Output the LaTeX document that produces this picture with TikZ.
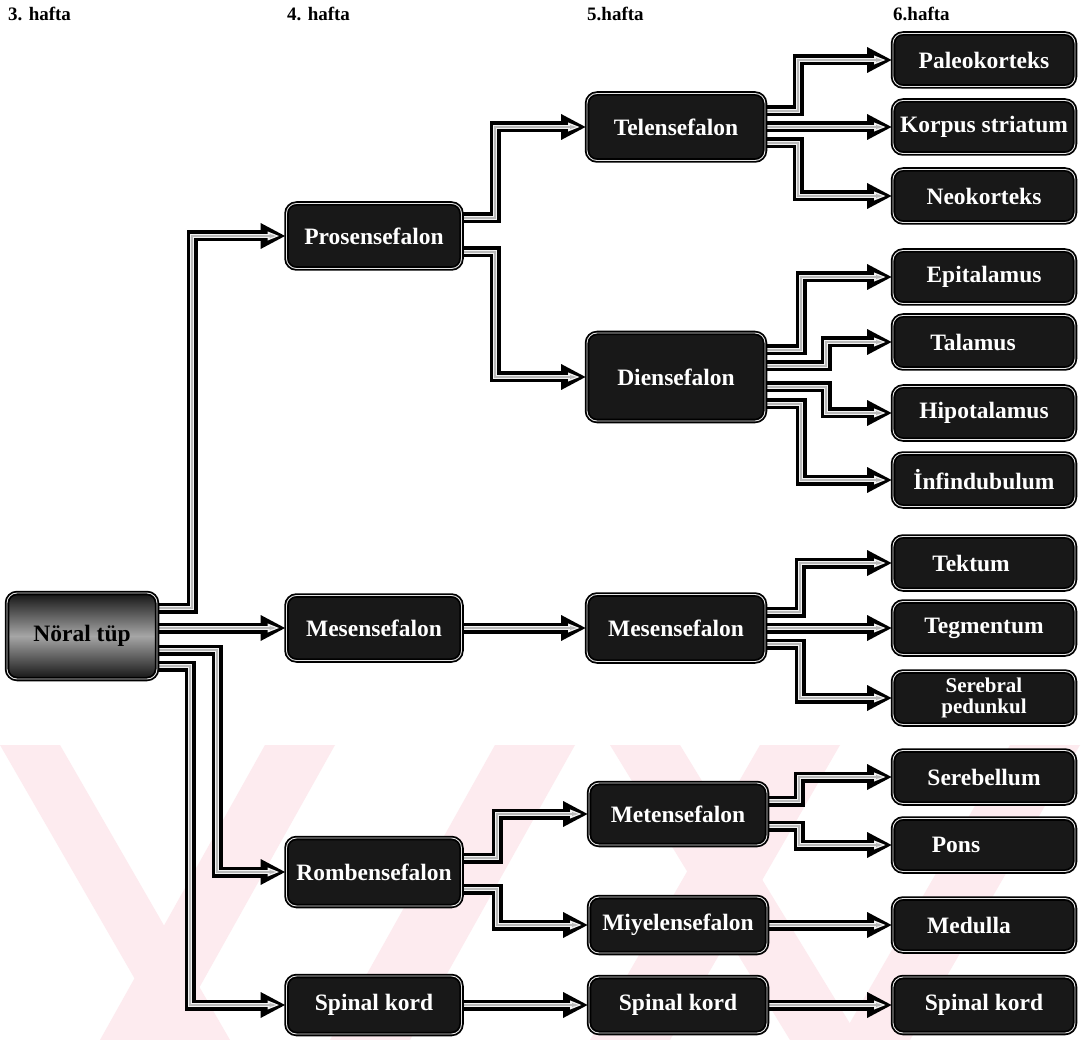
\documentclass[tikz,border=0pt]{standalone}
\usepackage{fontspec}
\setmainfont{Liberation Serif}
\usetikzlibrary{arrows.meta,backgrounds}
\definecolor{boxfill}{RGB}{24,24,24}
\definecolor{wm}{RGB}{253,235,239}
\tikzset{
  box/.style={rounded corners=10pt, draw=black, line width=1.8pt, double=white!80!gray,
    double distance=0.9pt, fill=boxfill, text=white,
    font=\bfseries\fontsize{23.5}{21}\selectfont, inner sep=0pt, align=center},
  cfour/.style={box, minimum width=175pt, minimum height=65pt},
  cfive/.style={box, minimum width=178pt, minimum height=67pt},
  csix/.style={box, minimum width=182pt, minimum height=53pt},
  conn/.style={line width=11pt, draw=black, -{Triangle[length=25pt,width=24pt]},
    postaction={draw=white!90!gray, line width=3.6pt, -{Triangle[length=12pt,width=8pt]}, shorten >=6pt},
    postaction={draw=gray!55, line width=1.4pt, -{Triangle[length=7pt,width=3.5pt]}, shorten >=9pt}},
  hdr/.style={font=\bfseries\fontsize{19}{20}\selectfont, anchor=base west, inner sep=0pt},
  wmark/.style={fill=wm, draw=none}
}
\begin{document}
\begin{tikzpicture}[x=1pt,y=-1pt]
\useasboundingbox (0,0) rectangle (1087,1040);

% headers
\node[hdr] (h3) at (8,21) {3. hafta};
\node[hdr] (h4) at (287,21) {4. hafta};
\node[hdr] (h5) at (587,21) {5.hafta};
\node[hdr] (h6) at (893,21) {6.hafta};

% column 3
\node[box, minimum width=150pt, minimum height=86pt, top color=black!92, bottom color=black!92,
  middle color=black!35, text=black] (nt) at (82,636) {Nöral tüp};

% column 4
\node[cfour] (pros) at (374,236) {Prosensefalon};
\node[cfour] (mesd) at (374,628) {Mesensefalon};
\node[cfour, minimum height=68pt] (romb) at (374,872) {Rombensefalon};
\node[cfour, minimum height=58pt] (spd) at (374,1005) {Spinal kord};

% column 5
\node[cfive] (tel) at (676,127) {Telensefalon};
\node[cfive, minimum height=88pt] (dien) at (676,377) {Diensefalon};
\node[cfive] (mese) at (676,628) {Mesensefalon};
\node[cfive, minimum height=62pt] (met) at (678,814) {Metensefalon};
\node[cfive, minimum height=56pt] (miy) at (678,925) {Miyelensefalon};
\node[cfive, minimum height=56pt] (spe) at (678,1005) {Spinal kord};

% column 6
\node[csix] (pal) at (984,60) {Paleokorteks};
\node[csix] (kor) at (984,127) {Korpus striatum};
\node[csix] (neo) at (984,196) {Neokorteks};
\node[csix] (epi) at (984,277) {Epitalamus};
\node[csix] (tal) at (984,342) {Talamus\hspace*{22pt}};
\node[csix] (hip) at (984,413) {Hipotalamus};
\node[csix] (inf) at (984,480) {İnfindubulum};
\node[csix] (tek) at (984,563) {Tektum\hspace*{26pt}};
\node[csix] (teg) at (984,628) {Tegmentum};
\node[csix, font=\bfseries\fontsize{21}{21}\selectfont] (ser) at (984,698) {Serebral\\pedunkul};
\node[csix] (sbl) at (984,777) {Serebellum};
\node[csix] (pons) at (984,845) {Pons\hspace*{56pt}};
\node[csix] (med) at (984,925) {Medulla\hspace*{30pt}};
\node[csix, minimum height=56pt] (spf) at (984,1005) {Spinal kord};

\begin{scope}[on background layer]
  \fill[white] (0,0) rectangle (1087,1040);
  \begin{scope}
    \clip (0,745) rectangle (1087,1040);
    \fill[wmark] (0,745) -- (60,745) -- (230,1040) -- (170,1040) -- cycle;
    \fill[wmark] (100,1040) -- (170,1040) -- (335,745) -- (265,745) -- cycle;
    \fill[wmark] (330,1040) -- (410,1040) -- (575,745) -- (495,745) -- cycle;
    \fill[wmark] (610,745) -- (680,745) -- (860,1040) -- (790,1040) -- cycle;
    \fill[wmark] (590,1040) -- (670,1040) -- (840,745) -- (760,745) -- cycle;
    \fill[wmark] (840,1040) -- (910,1040) -- (1080,745) -- (1010,745) -- cycle;
  \end{scope}

  % column 3 -> 4
  \draw[conn] (nt.east |- 0,608) -- (192,608) |- (pros.west);
  \draw[conn] (nt.east |- mesd.west) -- (mesd.west);
  \draw[conn] (nt.east |- 0,650) -- (217,650) |- (romb.west);
  \draw[conn] (nt.east |- 0,666) -- (190,666) |- (spd.west);

  % column 4 -> 5
  \draw[conn] (pros.east |- 0,218) -- (495,218) |- (tel.west);
  \draw[conn] (pros.east |- 0,252) -- (495,252) |- (dien.west);
  \draw[conn] (mesd.east) -- (mese.west);
  \draw[conn] (romb.east |- 0,858) -- (497,858) |- (met.west);
  \draw[conn] (romb.east |- 0,889) -- (497,889) |- (miy.west);
  \draw[conn] (spd.east) -- (spe.west);

  % column 5 -> 6
  \draw[conn] (tel.east |- 0,111) -- (798,111) |- (pal.west);
  \draw[conn] (tel.east |- kor.west) -- (kor.west);
  \draw[conn] (tel.east |- 0,143) -- (798,143) |- (neo.west);

  \draw[conn] (dien.east |- 0,350) -- (801,350) |- (epi.west);
  \draw[conn] (dien.east |- 0,366) -- (826,366) |- (tal.west);
  \draw[conn] (dien.east |- 0,387) -- (826,387) |- (hip.west);
  \draw[conn] (dien.east |- 0,404) -- (801,404) |- (inf.west);

  \draw[conn] (mese.east |- 0,612) -- (800,612) |- (tek.west);
  \draw[conn] (mese.east |- teg.west) -- (teg.west);
  \draw[conn] (mese.east |- 0,644) -- (800,644) |- (ser.west);

  \draw[conn] (met.east |- 0,801) -- (799,801) |- (sbl.west);
  \draw[conn] (met.east |- 0,826) -- (799,826) |- (pons.west);
  \draw[conn] (miy.east) -- (med.west);
  \draw[conn] (spe.east) -- (spf.west);
\end{scope}
\end{tikzpicture}
\end{document}
